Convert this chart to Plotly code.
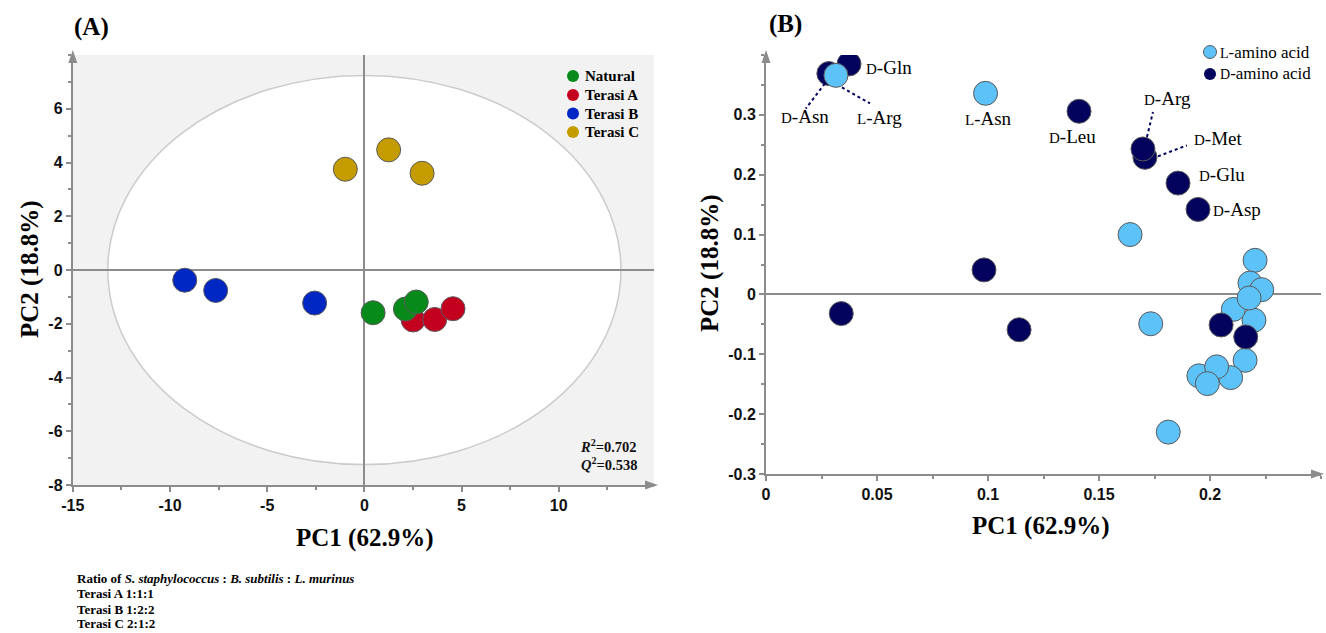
import plotly.graph_objects as go

W, H = 1326, 633

# ---------------- Panel A data (PCA scores) ----------------
natural_pc1 = [0.45, 2.11, 2.67]
natural_pc2 = [-1.59, -1.45, -1.19]
terasiA_pc1 = [2.51, 3.62, 4.56]
terasiA_pc2 = [-1.86, -1.84, -1.44]
terasiB_pc1 = [-9.24, -7.65, -2.56]
terasiB_pc2 = [-0.38, -0.76, -1.23]
terasiC_pc1 = [-0.98, 1.25, 2.97]
terasiC_pc2 = [3.75, 4.47, 3.60]
groups_A = ["Natural", "Terasi A", "Terasi B", "Terasi C"]
colors_A = ["#078a1a", "#c4001f", "#0026c4", "#c49c00"]
a_xticks = [-15, -10, -5, 0, 5, 10]
a_xticktext = ["-15", "-10", "-5", "0", "5", "10"]
a_yticks = [-8, -6, -4, -2, 0, 2, 4, 6]
a_yticktext = ["-8", "-6", "-4", "-2", "0", "2", "4", "6"]

# ---------------- Panel B data (PCA loadings) ----------------
d_names = ["D-Gln", "D-Asn", "D-Leu", "D-Met", "D-Arg", "D-Glu", "D-Asp", "", "", ""]
d_pc1 = [0.0374, 0.0283, 0.141, 0.1707, 0.1698, 0.1856, 0.1946, 0.0982, 0.0339, 0.114]
d_pc2 = [0.385, 0.369, 0.306, 0.229, 0.243, 0.186, 0.142, 0.041, -0.032, -0.059]
d2_pc1 = [0.205, 0.2161]
d2_pc2 = [-0.051, -0.071]
l_names = ["L-Arg", "L-Asn", "", "", "", "", "", "", "", "", "", "", "", "", "", ""]
l_pc1 = [0.0315, 0.0989, 0.164, 0.2203, 0.218, 0.2233, 0.2198, 0.2105, 0.2176,
         0.1733, 0.2158, 0.195, 0.2093, 0.203, 0.1988, 0.1812]
l_pc2 = [0.366, 0.336, 0.100, 0.057, 0.019, 0.008, -0.043, -0.025, -0.006,
         -0.049, -0.110, -0.136, -0.139, -0.121, -0.149, -0.230]
b_xticks = [0, 0.05, 0.1, 0.15, 0.2]
b_xticktext = ["0", "0.05", "0.1", "0.15", "0.2"]
b_yticks = [-0.3, -0.2, -0.1, 0, 0.1, 0.2, 0.3]
b_yticktext = ["-0.3", "-0.2", "-0.1", "0", "0.1", "0.2", "0.3"]

LIGHT = "#5cc2f7"
DARK = "#03035e"
SERIF = "Liberation Serif"
SANS = "Liberation Sans"
AXGRAY = "#8c8c8c"


def px(x):
    return x / W


def py(y):
    return 1 - y / H


fig = go.Figure()

A_pc1 = [natural_pc1, terasiA_pc1, terasiB_pc1, terasiC_pc1]
A_pc2 = [natural_pc2, terasiA_pc2, terasiB_pc2, terasiC_pc2]
for idx in [1, 0, 2, 3]:
    fig.add_trace(go.Scatter(
        x=A_pc1[idx], y=A_pc2[idx], mode="markers", name=groups_A[idx],
        marker=dict(size=24, color=colors_A[idx], line=dict(color="#5a5a5a", width=1)),
        xaxis="x", yaxis="y", showlegend=False))

fig.add_trace(go.Scatter(
    x=d_pc1, y=d_pc2, mode="markers", name="D-amino acid",
    marker=dict(size=24, color=DARK, line=dict(color="#5a5a5a", width=1)),
    xaxis="x2", yaxis="y2", showlegend=False))
fig.add_trace(go.Scatter(
    x=l_pc1, y=l_pc2, mode="markers", name="L-amino acid",
    marker=dict(size=24, color=LIGHT, line=dict(color="#5a5a5a", width=1)),
    xaxis="x2", yaxis="y2", showlegend=False))
fig.add_trace(go.Scatter(
    x=d2_pc1, y=d2_pc2, mode="markers", name="D-amino acid",
    marker=dict(size=24, color=DARK, line=dict(color="#5a5a5a", width=1)),
    xaxis="x2", yaxis="y2", showlegend=False))

tickfont = dict(family=SANS, size=16, color="#111111", weight="bold")
common = dict(showgrid=False, showline=True, linecolor=AXGRAY, linewidth=2,
              ticks="outside", ticklen=5, tickwidth=1.5, tickcolor=AXGRAY,
              tickfont=tickfont, fixedrange=True, automargin=False, tickmode="array")

A_dom_x = [px(72.8), px(654)]
A_dom_y = [py(485), py(55)]
B_dom_x = [px(766), px(1321)]
B_dom_y = [py(474), py(55)]

fig.update_layout(
    template="none",
    width=W, height=H, margin=dict(l=0, r=0, t=0, b=0, pad=0), autosize=False,
    paper_bgcolor="white", plot_bgcolor="#f2f2f2", showlegend=False,
    xaxis=dict(domain=A_dom_x, range=[-15, 14.9], tickvals=a_xticks, ticktext=a_xticktext,
               zeroline=True, zerolinecolor=AXGRAY, zerolinewidth=2,
               minor=dict(ticks="outside", ticklen=3, tickcolor=AXGRAY, dtick=2.5, tick0=0),
               anchor="y", **common),
    yaxis=dict(domain=A_dom_y, range=[-8, 8], tickvals=a_yticks, ticktext=a_yticktext,
               zeroline=True, zerolinecolor=AXGRAY, zerolinewidth=2,
               minor=dict(ticks="outside", ticklen=3, tickcolor=AXGRAY, dtick=1, tick0=0),
               anchor="x", **common),
    xaxis2=dict(domain=B_dom_x, range=[0, 0.25], tickvals=b_xticks, ticktext=b_xticktext,
                zeroline=False,
                minor=dict(ticks="outside", ticklen=3, tickcolor=AXGRAY, dtick=0.025, tick0=0),
                anchor="y2", **common),
    yaxis2=dict(domain=B_dom_y, range=[-0.3, 0.4], tickvals=b_yticks, ticktext=b_yticktext,
                zeroline=True, zerolinecolor=AXGRAY, zerolinewidth=2,
                minor=dict(ticks="outside", ticklen=3, tickcolor=AXGRAY, dtick=0.05, tick0=0),
                anchor="x2", **common),
)

shapes = []
# white ellipse (Hotelling T2) in panel A
shapes.append(dict(type="circle", xref="x", yref="y", x0=-13.2, x1=13.2, y0=-7.24, y1=7.24,
                   fillcolor="white", line=dict(color="#cccccc", width=1.5), layer="below"))
# panel B white background
shapes.append(dict(type="rect", xref="x2 domain", yref="y2 domain", x0=0, x1=1, y0=0, y1=1,
                   fillcolor="white", line=dict(width=0), layer="below"))


def arrow_up(xp, ytip):
    return dict(type="path", xref="paper", yref="paper",
                path=f"M {px(xp-4.5)} {py(ytip+13)} L {px(xp)} {py(ytip)} L {px(xp+4.5)} {py(ytip+13)} Z",
                fillcolor=AXGRAY, line=dict(width=0))


def arrow_right(xtip, yp):
    return dict(type="path", xref="paper", yref="paper",
                path=f"M {px(xtip-13)} {py(yp-4.5)} L {px(xtip)} {py(yp)} L {px(xtip-13)} {py(yp+4.5)} Z",
                fillcolor=AXGRAY, line=dict(width=0))


shapes += [arrow_up(72.8, 50), arrow_right(658, 485), arrow_up(766, 50), arrow_right(1324, 474)]

# dotted leader lines in panel B, anchored to their points (pixel offsets)
leaders = {"D-Asn": (-4, -10, -23, -35), "L-Arg": (6, -12, 34, -28),
           "D-Arg": (4, 12, 10, 37), "D-Met": (13, 1, 42, 12)}
allB = dict(zip(d_names, zip(d_pc1, d_pc2)))
allB.update(dict(zip(l_names, zip(l_pc1, l_pc2))))
for name, (x0, y0, x1, y1) in leaders.items():
    xv, yv = allB[name]
    shapes.append(dict(type="line", xref="x2", yref="y2", xsizemode="pixel", ysizemode="pixel",
                       xanchor=xv, yanchor=yv, x0=x0, x1=x1, y0=y0, y1=y1,
                       line=dict(color=DARK, width=2, dash="dot")))

# legend A symbols
for i, c in enumerate(colors_A):
    yc = [76, 95, 113.5, 132][i]
    shapes.append(dict(type="circle", xref="paper", yref="paper",
                       x0=px(567), x1=px(579), y0=py(yc + 6), y1=py(yc - 6),
                       fillcolor=c, line=dict(width=0)))
# legend B symbols
shapes.append(dict(type="circle", xref="paper", yref="paper", x0=px(1203.5), x1=px(1216.5),
                   y0=py(58.5), y1=py(45.5), fillcolor=LIGHT, line=dict(color="#5a5a5a", width=1)))
shapes.append(dict(type="circle", xref="paper", yref="paper", x0=px(1204), x1=px(1216),
                   y0=py(80), y1=py(68), fillcolor=DARK, line=dict(width=0)))
fig.update_layout(shapes=shapes)

ann = []


def txt(x, y, s, size, bold=False, family=SERIF, xanchor="left", angle=0, color="black"):
    if bold:
        s = "<b>" + s + "</b>"
    ann.append(dict(x=px(x), y=py(y), xref="paper", yref="paper", text=s, showarrow=False,
                    xanchor=xanchor, yanchor="middle", textangle=angle,
                    font=dict(family=family, size=size, color=color)))


txt(72, 27, "(A)", 25, bold=True)
txt(767, 24, "(B)", 25, bold=True)
txt(364, 538, "PC1 (62.9%)", 25, bold=True, xanchor="center")
txt(1040, 526, "PC1 (62.9%)", 25, bold=True, xanchor="center")
txt(30, 270, "PC2 (18.8%)", 25, bold=True, xanchor="center", angle=-90)
txt(710, 264, "PC2 (18.8%)", 25, bold=True, xanchor="center", angle=-90)

for i, g in enumerate(groups_A):
    yc = [76, 95, 113.5, 132][i]
    txt(583, yc, g, 15, bold=True)

ann.append(dict(x=px(639), y=py(446), xref="paper", yref="paper", xanchor="right", yanchor="middle",
                text="<b><i>R</i><sup>2</sup>=0.702</b>", showarrow=False,
                font=dict(family=SERIF, size=14.5, color="#111111")))
ann.append(dict(x=px(639), y=py(464), xref="paper", yref="paper", xanchor="right", yanchor="middle",
                text="<b><i>Q</i><sup>2</sup>=0.538</b>", showarrow=False,
                font=dict(family=SERIF, size=14.5, color="#111111")))

txt(75, 578, "Ratio of <i>S. staphylococcus</i> : <i>B. subtilis</i> : <i>L. murinus</i>", 13, bold=True)
txt(75, 593.5, "Terasi A 1:1:1", 13, bold=True)
txt(75, 609, "Terasi B 1:2:2", 13, bold=True)
txt(75, 623.5, "Terasi C 2:1:2", 13, bold=True)


def sc(name, small):
    return f'<span style="font-size:{small}px">{name[0]}</span>{name[1:]}'


txt(1218, 52, sc("L-amino acid", 14), 17)
txt(1218, 74, sc("D-amino acid", 14), 17)

# point labels in panel B (pixel offsets from their points)
label_off = {"D-Gln": ("left", 15, -4), "D-Asn": ("center", -24, -43), "L-Arg": ("center", 44, -42),
             "L-Asn": ("center", 3, -25), "D-Leu": ("center", -7, -25), "D-Arg": ("center", 25, 50),
             "D-Met": ("left", 47, 19), "D-Glu": ("left", 19, 9), "D-Asp": ("left", 13, 0)}
for name, (xa, dx, dy) in label_off.items():
    xv, yv = allB[name]
    ann.append(dict(x=xv, y=yv, xref="x2", yref="y2", text=sc(name, 15),
                    showarrow=False, xanchor=xa, yanchor="middle", xshift=dx, yshift=dy,
                    font=dict(family=SERIF, size=19, color="black")))

fig.update_layout(annotations=ann)

fig.write_html("out.html", config={"displayModeBar": False},
               post_script="document.body.style.margin='0px';")
